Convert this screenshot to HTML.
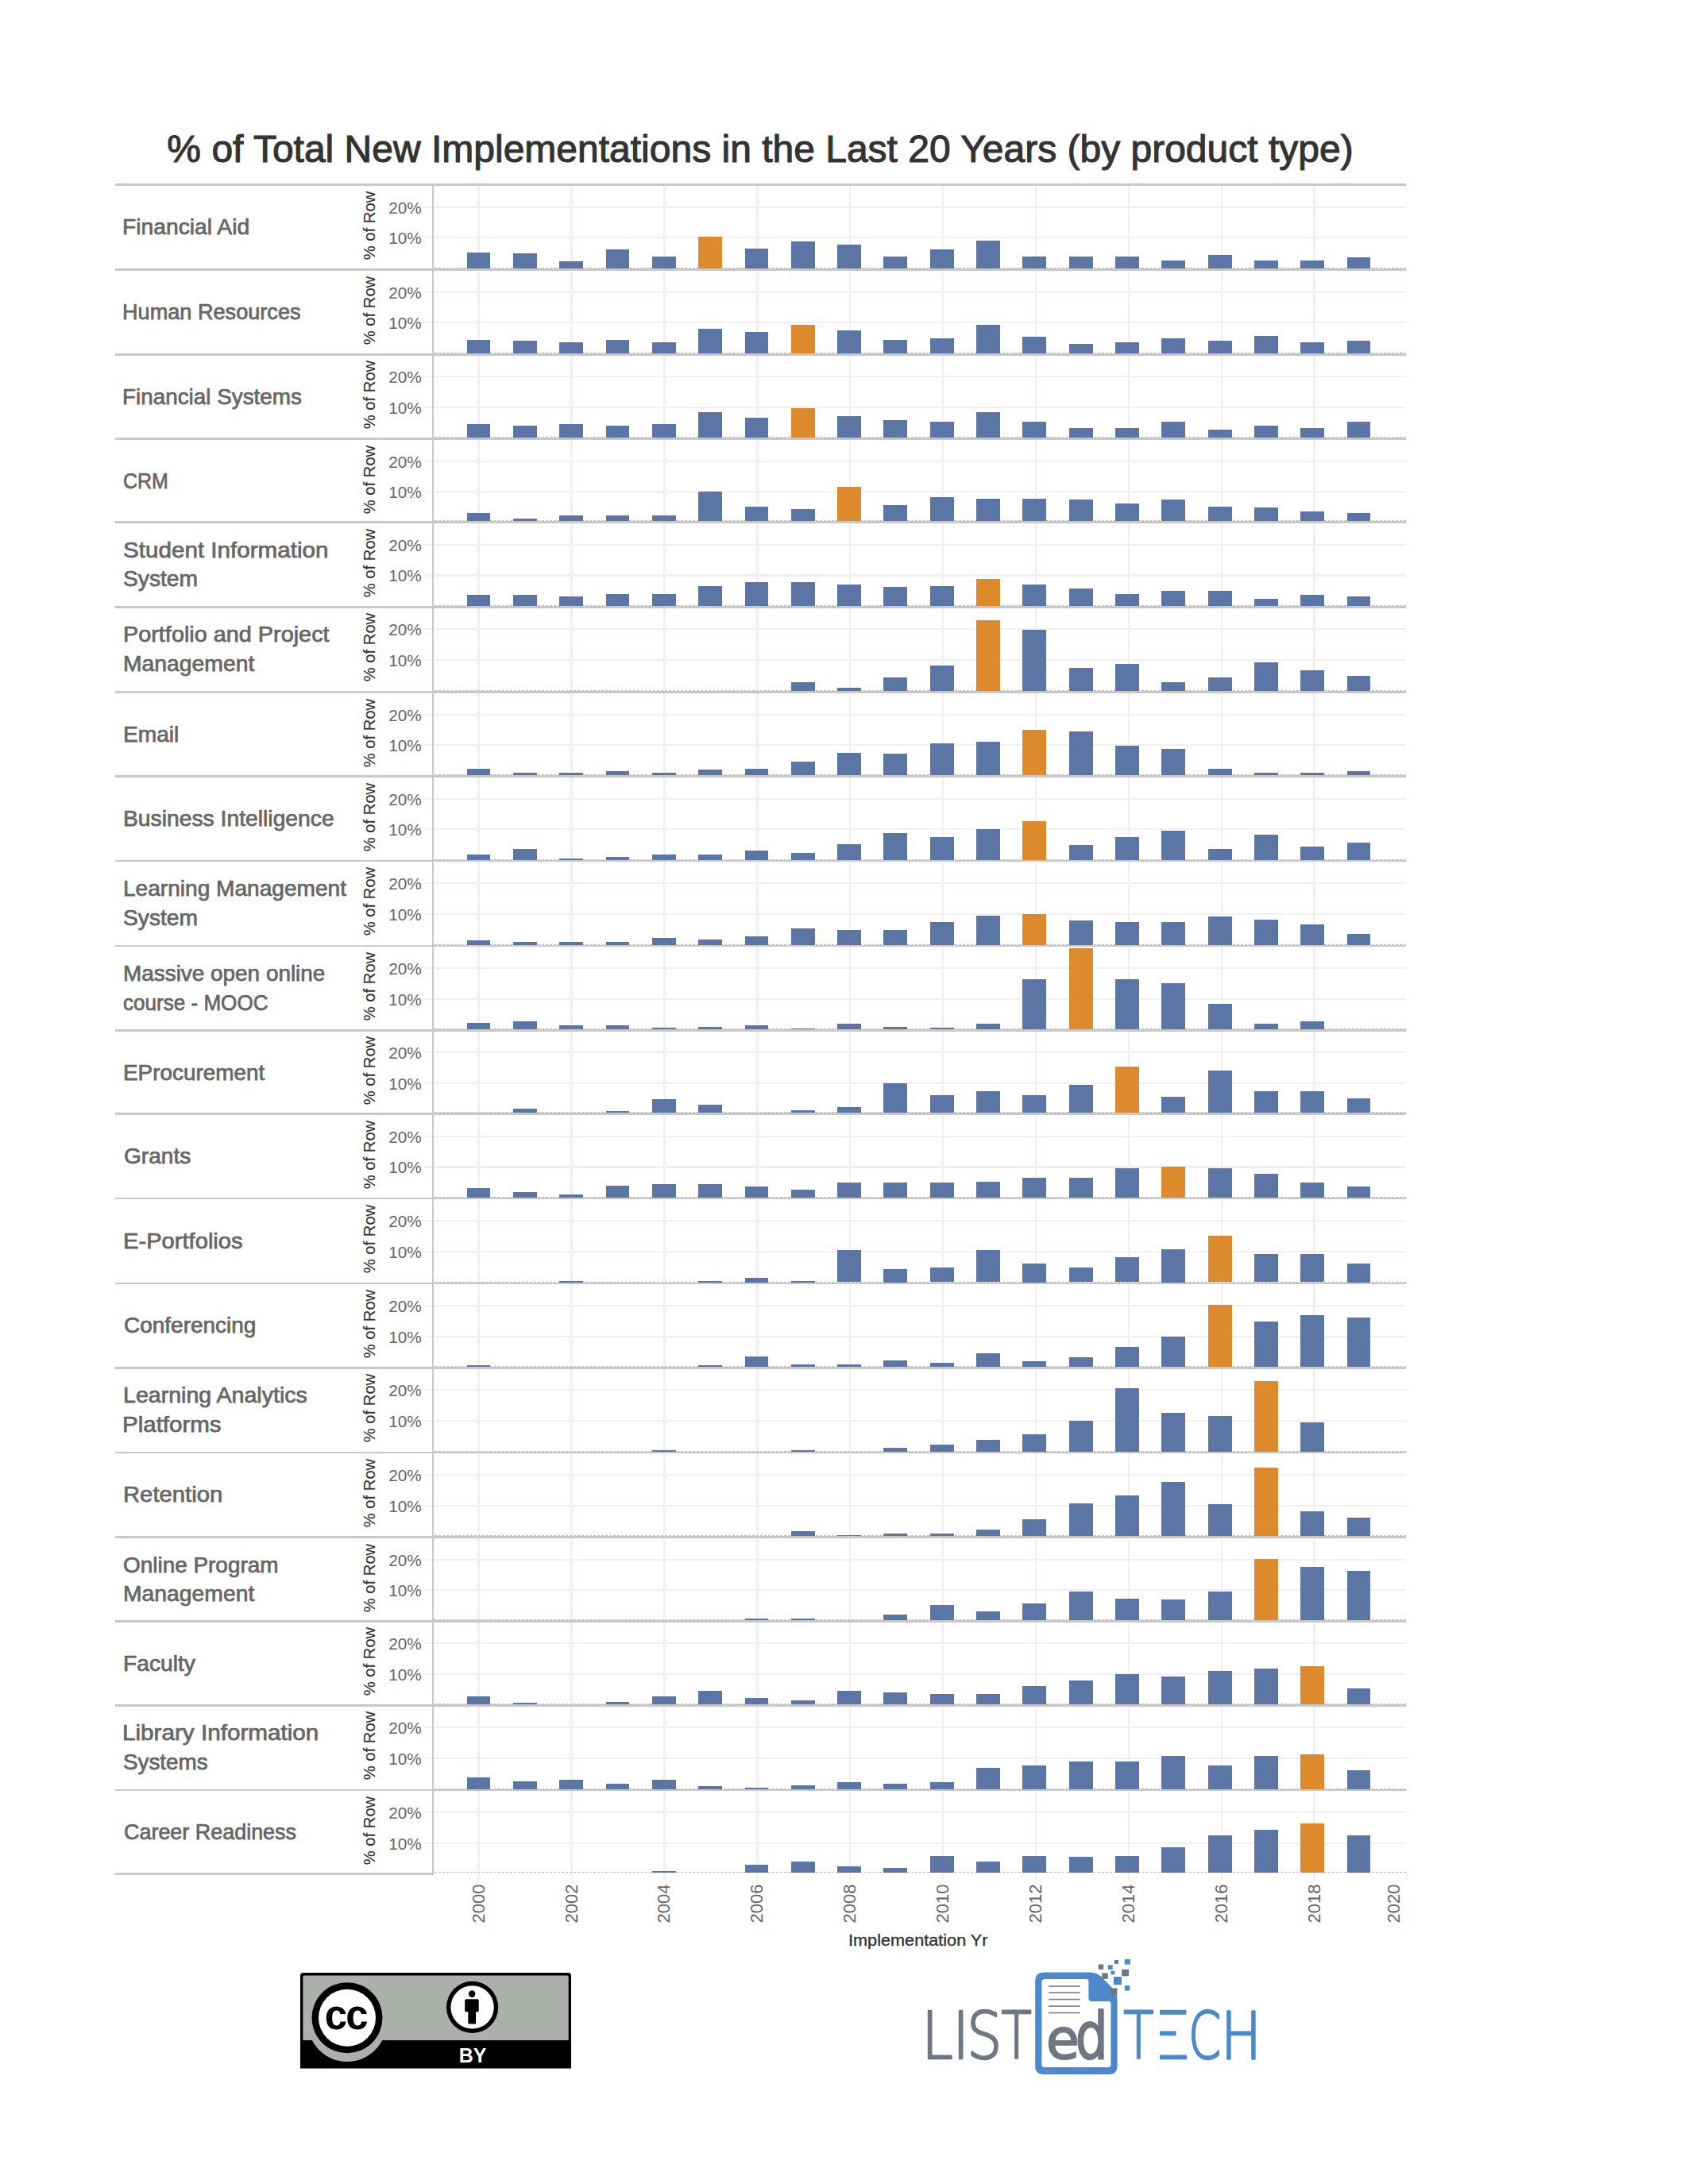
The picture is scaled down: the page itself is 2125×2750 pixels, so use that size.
<!DOCTYPE html>
<html><head><meta charset="utf-8"><title>% of Total New Implementations in the Last 20 Years (by product type)</title>
<style>
html,body{margin:0;padding:0;background:#fff;}
body{width:2125px;height:2750px;position:relative;overflow:hidden;font-family:"Liberation Sans",Arial,sans-serif;}
.a{position:absolute;}
.h{position:absolute;height:2.7px;background:#c8c8c8;}
.g{position:absolute;background:#f0f0f0;}
.b{position:absolute;width:29.8px;background:#5b76a5;}
.o{background:#dc8a2b;}
.d{position:absolute;height:1.1px;left:547px;width:1223px;background:repeating-linear-gradient(90deg,#c4c4c4 0 2.7px,transparent 2.7px 5px);}
.lbl{position:absolute;font-size:28px;line-height:36.7px;color:#666;white-space:nowrap;transform-origin:0 0;-webkit-text-stroke:0.75px #666;}
.tk{position:absolute;right:1594.2px;font-size:20.8px;line-height:24px;color:#666;text-align:right;white-space:nowrap;}
.rl{position:absolute;font-size:20.2px;line-height:22px;color:#333;-webkit-text-stroke:0.15px #333;white-space:nowrap;transform:rotate(-90deg);transform-origin:center center;width:100px;text-align:center;}
.yr{position:absolute;font-size:22px;line-height:22px;color:#666;white-space:nowrap;transform:rotate(-90deg);transform-origin:center center;width:60px;text-align:center;}
</style></head><body>

<div class="a" style="left:0;width:1914px;top:160.2px;text-align:center;font-size:48px;line-height:56px;color:#333;white-space:nowrap;-webkit-text-stroke:1.1px #333;">% of Total New Implementations in the Last 20 Years (by product type)</div>
<div class="g" style="left:601.3px;top:234px;width:2.6px;height:2133.5px"></div>
<div class="g" style="left:718.2px;top:234px;width:2.6px;height:2133.5px"></div>
<div class="g" style="left:835.1px;top:234px;width:2.6px;height:2133.5px"></div>
<div class="g" style="left:952px;top:234px;width:2.6px;height:2133.5px"></div>
<div class="g" style="left:1068.9px;top:234px;width:2.6px;height:2133.5px"></div>
<div class="g" style="left:1185.8px;top:234px;width:2.6px;height:2133.5px"></div>
<div class="g" style="left:1302.7px;top:234px;width:2.6px;height:2133.5px"></div>
<div class="g" style="left:1419.6px;top:234px;width:2.6px;height:2133.5px"></div>
<div class="g" style="left:1536.5px;top:234px;width:2.6px;height:2133.5px"></div>
<div class="g" style="left:1653.4px;top:234px;width:2.6px;height:2133.5px"></div>
<div class="g" style="left:1769.6px;top:2358.5px;width:2.2px;height:9px"></div>
<div class="g" style="left:535px;width:1235px;top:259.85px;height:2.1px"></div>
<div class="g" style="left:535px;width:1235px;top:298.35px;height:2.1px"></div>
<div class="d" style="top:337.1px"></div>
<div class="b" style="left:587.6px;top:317.9px;height:20.2px"></div>
<div class="b" style="left:645.92px;top:319px;height:19.1px"></div>
<div class="b" style="left:704.24px;top:328.9px;height:9.2px"></div>
<div class="b" style="left:762.56px;top:313.8px;height:24.3px"></div>
<div class="b" style="left:820.88px;top:323px;height:15.1px"></div>
<div class="b o" style="left:879.2px;top:298px;height:40.1px"></div>
<div class="b" style="left:937.52px;top:313.1px;height:25px"></div>
<div class="b" style="left:995.84px;top:303.9px;height:34.2px"></div>
<div class="b" style="left:1054.16px;top:308px;height:30.1px"></div>
<div class="b" style="left:1112.48px;top:323px;height:15.1px"></div>
<div class="b" style="left:1170.8px;top:313.8px;height:24.3px"></div>
<div class="b" style="left:1229.12px;top:302.8px;height:35.3px"></div>
<div class="b" style="left:1287.44px;top:323px;height:15.1px"></div>
<div class="b" style="left:1345.76px;top:323px;height:15.1px"></div>
<div class="b" style="left:1404.08px;top:323px;height:15.1px"></div>
<div class="b" style="left:1462.4px;top:327.8px;height:10.3px"></div>
<div class="b" style="left:1520.72px;top:320.8px;height:17.3px"></div>
<div class="b" style="left:1579.04px;top:327.8px;height:10.3px"></div>
<div class="b" style="left:1637.36px;top:327.8px;height:10.3px"></div>
<div class="b" style="left:1695.68px;top:324.1px;height:14px"></div>
<div class="h" style="left:145px;width:1625px;top:231.35px"></div>
<div class="lbl" style="left:154.18px;top:268.15px;transform:scaleX(1.0090)">Financial Aid</div>
<div class="rl" style="left:414.6px;top:272.85px">% of Row</div>
<div class="tk" style="top:249.8px">20%</div>
<div class="tk" style="top:288.3px">10%</div>
<div class="g" style="left:535px;width:1235px;top:366.65px;height:2.1px"></div>
<div class="g" style="left:535px;width:1235px;top:405.15px;height:2.1px"></div>
<div class="d" style="top:443.8px"></div>
<div class="b" style="left:587.6px;top:427.9px;height:16.9px"></div>
<div class="b" style="left:645.92px;top:429px;height:15.8px"></div>
<div class="b" style="left:704.24px;top:431.2px;height:13.6px"></div>
<div class="b" style="left:762.56px;top:427.9px;height:16.9px"></div>
<div class="b" style="left:820.88px;top:431.2px;height:13.6px"></div>
<div class="b" style="left:879.2px;top:413.9px;height:30.9px"></div>
<div class="b" style="left:937.52px;top:418px;height:26.8px"></div>
<div class="b o" style="left:995.84px;top:408.8px;height:36px"></div>
<div class="b" style="left:1054.16px;top:415.8px;height:29px"></div>
<div class="b" style="left:1112.48px;top:427.9px;height:16.9px"></div>
<div class="b" style="left:1170.8px;top:425.7px;height:19.1px"></div>
<div class="b" style="left:1229.12px;top:409.3px;height:35.5px"></div>
<div class="b" style="left:1287.44px;top:423.9px;height:20.9px"></div>
<div class="b" style="left:1345.76px;top:433px;height:11.8px"></div>
<div class="b" style="left:1404.08px;top:431.2px;height:13.6px"></div>
<div class="b" style="left:1462.4px;top:425.7px;height:19.1px"></div>
<div class="b" style="left:1520.72px;top:429px;height:15.8px"></div>
<div class="b" style="left:1579.04px;top:423.1px;height:21.7px"></div>
<div class="b" style="left:1637.36px;top:431.2px;height:13.6px"></div>
<div class="b" style="left:1695.68px;top:429px;height:15.8px"></div>
<div class="h" style="left:145px;width:1625px;top:338.15px"></div>
<div class="lbl" style="left:154.26px;top:374.95px;transform:scaleX(0.9683)">Human Resources</div>
<div class="rl" style="left:414.6px;top:379.65px">% of Row</div>
<div class="tk" style="top:356.6px">20%</div>
<div class="tk" style="top:395.1px">10%</div>
<div class="g" style="left:535px;width:1235px;top:473.35px;height:2.1px"></div>
<div class="g" style="left:535px;width:1235px;top:511.85px;height:2.1px"></div>
<div class="d" style="top:550.2px"></div>
<div class="b" style="left:587.6px;top:533.9px;height:17.3px"></div>
<div class="b" style="left:645.92px;top:536.1px;height:15.1px"></div>
<div class="b" style="left:704.24px;top:533.9px;height:17.3px"></div>
<div class="b" style="left:762.56px;top:536.1px;height:15.1px"></div>
<div class="b" style="left:820.88px;top:533.9px;height:17.3px"></div>
<div class="b" style="left:879.2px;top:518.9px;height:32.3px"></div>
<div class="b" style="left:937.52px;top:525.9px;height:25.3px"></div>
<div class="b o" style="left:995.84px;top:514.1px;height:37.1px"></div>
<div class="b" style="left:1054.16px;top:524px;height:27.2px"></div>
<div class="b" style="left:1112.48px;top:529.2px;height:22px"></div>
<div class="b" style="left:1170.8px;top:530.6px;height:20.6px"></div>
<div class="b" style="left:1229.12px;top:518.9px;height:32.3px"></div>
<div class="b" style="left:1287.44px;top:530.6px;height:20.6px"></div>
<div class="b" style="left:1345.76px;top:539.1px;height:12.1px"></div>
<div class="b" style="left:1404.08px;top:539.1px;height:12.1px"></div>
<div class="b" style="left:1462.4px;top:530.6px;height:20.6px"></div>
<div class="b" style="left:1520.72px;top:540.9px;height:10.3px"></div>
<div class="b" style="left:1579.04px;top:535.8px;height:15.4px"></div>
<div class="b" style="left:1637.36px;top:539.1px;height:12.1px"></div>
<div class="b" style="left:1695.68px;top:530.6px;height:20.6px"></div>
<div class="h" style="left:145px;width:1625px;top:444.85px"></div>
<div class="lbl" style="left:154.21px;top:481.65px;transform:scaleX(0.9942)">Financial Systems</div>
<div class="rl" style="left:414.6px;top:486.35px">% of Row</div>
<div class="tk" style="top:463.3px">20%</div>
<div class="tk" style="top:501.8px">10%</div>
<div class="g" style="left:535px;width:1235px;top:579.75px;height:2.1px"></div>
<div class="g" style="left:535px;width:1235px;top:618.25px;height:2.1px"></div>
<div class="d" style="top:655.4px"></div>
<div class="b" style="left:587.6px;top:646.1px;height:10.3px"></div>
<div class="b" style="left:645.92px;top:653.1px;height:3.3px"></div>
<div class="b" style="left:704.24px;top:649.1px;height:7.3px"></div>
<div class="b" style="left:762.56px;top:649.1px;height:7.3px"></div>
<div class="b" style="left:820.88px;top:649.1px;height:7.3px"></div>
<div class="b" style="left:879.2px;top:618.9px;height:37.5px"></div>
<div class="b" style="left:937.52px;top:637.7px;height:18.7px"></div>
<div class="b" style="left:995.84px;top:641px;height:15.4px"></div>
<div class="b o" style="left:1054.16px;top:613.1px;height:43.3px"></div>
<div class="b" style="left:1112.48px;top:635.8px;height:20.6px"></div>
<div class="b" style="left:1170.8px;top:625.9px;height:30.5px"></div>
<div class="b" style="left:1229.12px;top:627.7px;height:28.7px"></div>
<div class="b" style="left:1287.44px;top:627.7px;height:28.7px"></div>
<div class="b" style="left:1345.76px;top:628.9px;height:27.5px"></div>
<div class="b" style="left:1404.08px;top:634px;height:22.4px"></div>
<div class="b" style="left:1462.4px;top:628.9px;height:27.5px"></div>
<div class="b" style="left:1520.72px;top:637.7px;height:18.7px"></div>
<div class="b" style="left:1579.04px;top:638.8px;height:17.6px"></div>
<div class="b" style="left:1637.36px;top:643.9px;height:12.5px"></div>
<div class="b" style="left:1695.68px;top:646.1px;height:10.3px"></div>
<div class="h" style="left:145px;width:1625px;top:551.25px"></div>
<div class="lbl" style="left:155.31px;top:588.05px;transform:scaleX(0.8918)">CRM</div>
<div class="rl" style="left:414.6px;top:592.75px">% of Row</div>
<div class="tk" style="top:569.7px">20%</div>
<div class="tk" style="top:608.2px">10%</div>
<div class="g" style="left:535px;width:1235px;top:684.95px;height:2.1px"></div>
<div class="g" style="left:535px;width:1235px;top:723.45px;height:2.1px"></div>
<div class="d" style="top:761.8px"></div>
<div class="b" style="left:587.6px;top:749.2px;height:13.6px"></div>
<div class="b" style="left:645.92px;top:749.2px;height:13.6px"></div>
<div class="b" style="left:704.24px;top:751px;height:11.8px"></div>
<div class="b" style="left:762.56px;top:748.1px;height:14.7px"></div>
<div class="b" style="left:820.88px;top:748.1px;height:14.7px"></div>
<div class="b" style="left:879.2px;top:737.8px;height:25px"></div>
<div class="b" style="left:937.52px;top:732.7px;height:30.1px"></div>
<div class="b" style="left:995.84px;top:732.7px;height:30.1px"></div>
<div class="b" style="left:1054.16px;top:736px;height:26.8px"></div>
<div class="b" style="left:1112.48px;top:738.9px;height:23.9px"></div>
<div class="b" style="left:1170.8px;top:737.8px;height:25px"></div>
<div class="b o" style="left:1229.12px;top:729px;height:33.8px"></div>
<div class="b" style="left:1287.44px;top:736px;height:26.8px"></div>
<div class="b" style="left:1345.76px;top:741.1px;height:21.7px"></div>
<div class="b" style="left:1404.08px;top:748.1px;height:14.7px"></div>
<div class="b" style="left:1462.4px;top:744.1px;height:18.7px"></div>
<div class="b" style="left:1520.72px;top:744.1px;height:18.7px"></div>
<div class="b" style="left:1579.04px;top:754px;height:8.8px"></div>
<div class="b" style="left:1637.36px;top:749.2px;height:13.6px"></div>
<div class="b" style="left:1695.68px;top:751px;height:11.8px"></div>
<div class="h" style="left:145px;width:1625px;top:656.45px"></div>
<div class="lbl" style="left:154.54px;top:674.95px;transform:scaleX(1.0579)">Student Information</div>
<div class="lbl" style="left:154.59px;top:711.45px;transform:scaleX(1.0077)">System</div>
<div class="rl" style="left:414.6px;top:697.95px">% of Row</div>
<div class="tk" style="top:674.9px">20%</div>
<div class="tk" style="top:713.4px">10%</div>
<div class="g" style="left:535px;width:1235px;top:791.35px;height:2.1px"></div>
<div class="g" style="left:535px;width:1235px;top:829.85px;height:2.1px"></div>
<div class="d" style="top:869px"></div>
<div class="b" style="left:995.84px;top:859px;height:11px"></div>
<div class="b" style="left:1054.16px;top:866.3px;height:3.7px"></div>
<div class="b" style="left:1112.48px;top:853.1px;height:16.9px"></div>
<div class="b" style="left:1170.8px;top:838px;height:32px"></div>
<div class="b o" style="left:1229.12px;top:780.7px;height:89.3px"></div>
<div class="b" style="left:1287.44px;top:792.9px;height:77.1px"></div>
<div class="b" style="left:1345.76px;top:841px;height:29px"></div>
<div class="b" style="left:1404.08px;top:835.8px;height:34.2px"></div>
<div class="b" style="left:1462.4px;top:859px;height:11px"></div>
<div class="b" style="left:1520.72px;top:853.1px;height:16.9px"></div>
<div class="b" style="left:1579.04px;top:834px;height:36px"></div>
<div class="b" style="left:1637.36px;top:843.9px;height:26.1px"></div>
<div class="b" style="left:1695.68px;top:850.9px;height:19.1px"></div>
<div class="h" style="left:145px;width:1625px;top:762.85px"></div>
<div class="lbl" style="left:154.54px;top:781.35px;transform:scaleX(1.0295)">Portfolio and Project</div>
<div class="lbl" style="left:154.58px;top:817.85px;transform:scaleX(1.0111)">Management</div>
<div class="rl" style="left:414.6px;top:804.35px">% of Row</div>
<div class="tk" style="top:781.3px">20%</div>
<div class="tk" style="top:819.8px">10%</div>
<div class="g" style="left:535px;width:1235px;top:898.55px;height:2.1px"></div>
<div class="g" style="left:535px;width:1235px;top:937.05px;height:2.1px"></div>
<div class="d" style="top:975.25px"></div>
<div class="b" style="left:587.6px;top:968.15px;height:8.1px"></div>
<div class="b" style="left:645.92px;top:973.35px;height:2.9px"></div>
<div class="b" style="left:704.24px;top:973.35px;height:2.9px"></div>
<div class="b" style="left:762.56px;top:971.15px;height:5.1px"></div>
<div class="b" style="left:820.88px;top:973.35px;height:2.9px"></div>
<div class="b" style="left:879.2px;top:968.95px;height:7.3px"></div>
<div class="b" style="left:937.52px;top:968.15px;height:8.1px"></div>
<div class="b" style="left:995.84px;top:958.95px;height:17.3px"></div>
<div class="b" style="left:1054.16px;top:947.95px;height:28.3px"></div>
<div class="b" style="left:1112.48px;top:949.05px;height:27.2px"></div>
<div class="b" style="left:1170.8px;top:936.25px;height:40px"></div>
<div class="b" style="left:1229.12px;top:934.05px;height:42.2px"></div>
<div class="b o" style="left:1287.44px;top:918.95px;height:57.3px"></div>
<div class="b" style="left:1345.76px;top:921.15px;height:55.1px"></div>
<div class="b" style="left:1404.08px;top:938.75px;height:37.5px"></div>
<div class="b" style="left:1462.4px;top:942.85px;height:33.4px"></div>
<div class="b" style="left:1520.72px;top:968.15px;height:8.1px"></div>
<div class="b" style="left:1579.04px;top:973.35px;height:2.9px"></div>
<div class="b" style="left:1637.36px;top:973.35px;height:2.9px"></div>
<div class="b" style="left:1695.68px;top:971.15px;height:5.1px"></div>
<div class="h" style="left:145px;width:1625px;top:870.05px"></div>
<div class="lbl" style="left:154.59px;top:906.85px;transform:scaleX(1.0045)">Email</div>
<div class="rl" style="left:414.6px;top:911.55px">% of Row</div>
<div class="tk" style="top:888.5px">20%</div>
<div class="tk" style="top:927px">10%</div>
<div class="g" style="left:535px;width:1235px;top:1004.8px;height:2.1px"></div>
<div class="g" style="left:535px;width:1235px;top:1043.3px;height:2.1px"></div>
<div class="d" style="top:1081.6px"></div>
<div class="b" style="left:587.6px;top:1076px;height:6.6px"></div>
<div class="b" style="left:645.92px;top:1069px;height:13.6px"></div>
<div class="b" style="left:704.24px;top:1081.1px;height:1.5px"></div>
<div class="b" style="left:762.56px;top:1078.9px;height:3.7px"></div>
<div class="b" style="left:820.88px;top:1076px;height:6.6px"></div>
<div class="b" style="left:879.2px;top:1076px;height:6.6px"></div>
<div class="b" style="left:937.52px;top:1070.8px;height:11.8px"></div>
<div class="b" style="left:995.84px;top:1073.8px;height:8.8px"></div>
<div class="b" style="left:1054.16px;top:1063.1px;height:19.5px"></div>
<div class="b" style="left:1112.48px;top:1048.8px;height:33.8px"></div>
<div class="b" style="left:1170.8px;top:1053.9px;height:28.7px"></div>
<div class="b" style="left:1229.12px;top:1044px;height:38.6px"></div>
<div class="b o" style="left:1287.44px;top:1033.7px;height:48.9px"></div>
<div class="b" style="left:1345.76px;top:1063.9px;height:18.7px"></div>
<div class="b" style="left:1404.08px;top:1053.9px;height:28.7px"></div>
<div class="b" style="left:1462.4px;top:1045.9px;height:36.7px"></div>
<div class="b" style="left:1520.72px;top:1069px;height:13.6px"></div>
<div class="b" style="left:1579.04px;top:1051px;height:31.6px"></div>
<div class="b" style="left:1637.36px;top:1066.1px;height:16.5px"></div>
<div class="b" style="left:1695.68px;top:1060.9px;height:21.7px"></div>
<div class="h" style="left:145px;width:1625px;top:976.3px"></div>
<div class="lbl" style="left:154.58px;top:1013.1px;transform:scaleX(1.0100)">Business Intelligence</div>
<div class="rl" style="left:414.6px;top:1017.8px">% of Row</div>
<div class="tk" style="top:994.75px">20%</div>
<div class="tk" style="top:1033.25px">10%</div>
<div class="g" style="left:535px;width:1235px;top:1111.15px;height:2.1px"></div>
<div class="g" style="left:535px;width:1235px;top:1149.65px;height:2.1px"></div>
<div class="d" style="top:1188.7px"></div>
<div class="b" style="left:587.6px;top:1184.2px;height:5.5px"></div>
<div class="b" style="left:645.92px;top:1186px;height:3.7px"></div>
<div class="b" style="left:704.24px;top:1186px;height:3.7px"></div>
<div class="b" style="left:762.56px;top:1186px;height:3.7px"></div>
<div class="b" style="left:820.88px;top:1180.9px;height:8.8px"></div>
<div class="b" style="left:879.2px;top:1183.1px;height:6.6px"></div>
<div class="b" style="left:937.52px;top:1179px;height:10.7px"></div>
<div class="b" style="left:995.84px;top:1169.1px;height:20.6px"></div>
<div class="b" style="left:1054.16px;top:1171px;height:18.7px"></div>
<div class="b" style="left:1112.48px;top:1171px;height:18.7px"></div>
<div class="b" style="left:1170.8px;top:1161px;height:28.7px"></div>
<div class="b" style="left:1229.12px;top:1153px;height:36.7px"></div>
<div class="b o" style="left:1287.44px;top:1150.8px;height:38.9px"></div>
<div class="b" style="left:1345.76px;top:1158.8px;height:30.9px"></div>
<div class="b" style="left:1404.08px;top:1161px;height:28.7px"></div>
<div class="b" style="left:1462.4px;top:1161px;height:28.7px"></div>
<div class="b" style="left:1520.72px;top:1154.1px;height:35.6px"></div>
<div class="b" style="left:1579.04px;top:1158.1px;height:31.6px"></div>
<div class="b" style="left:1637.36px;top:1164px;height:25.7px"></div>
<div class="b" style="left:1695.68px;top:1176.1px;height:13.6px"></div>
<div class="h" style="left:145px;width:1625px;top:1082.65px"></div>
<div class="lbl" style="left:154.59px;top:1101.15px;transform:scaleX(1.0029)">Learning Management</div>
<div class="lbl" style="left:154.59px;top:1137.65px;transform:scaleX(1.0077)">System</div>
<div class="rl" style="left:414.6px;top:1124.15px">% of Row</div>
<div class="tk" style="top:1101.1px">20%</div>
<div class="tk" style="top:1139.6px">10%</div>
<div class="g" style="left:535px;width:1235px;top:1218.25px;height:2.1px"></div>
<div class="g" style="left:535px;width:1235px;top:1256.75px;height:2.1px"></div>
<div class="d" style="top:1294.8px"></div>
<div class="b" style="left:587.6px;top:1288.1px;height:7.7px"></div>
<div class="b" style="left:645.92px;top:1285.9px;height:9.9px"></div>
<div class="b" style="left:704.24px;top:1291px;height:4.8px"></div>
<div class="b" style="left:762.56px;top:1291px;height:4.8px"></div>
<div class="b" style="left:820.88px;top:1294px;height:1.8px"></div>
<div class="b" style="left:879.2px;top:1292.9px;height:2.9px"></div>
<div class="b" style="left:937.52px;top:1291px;height:4.8px"></div>
<div class="b" style="left:995.84px;top:1295.4px;height:0.4px"></div>
<div class="b" style="left:1054.16px;top:1289.2px;height:6.6px"></div>
<div class="b" style="left:1112.48px;top:1292.9px;height:2.9px"></div>
<div class="b" style="left:1170.8px;top:1294px;height:1.8px"></div>
<div class="b" style="left:1229.12px;top:1289.2px;height:6.6px"></div>
<div class="b" style="left:1287.44px;top:1233px;height:62.8px"></div>
<div class="b o" style="left:1345.76px;top:1194.1px;height:101.7px"></div>
<div class="b" style="left:1404.08px;top:1233px;height:62.8px"></div>
<div class="b" style="left:1462.4px;top:1238.1px;height:57.7px"></div>
<div class="b" style="left:1520.72px;top:1263.8px;height:32px"></div>
<div class="b" style="left:1579.04px;top:1289.2px;height:6.6px"></div>
<div class="b" style="left:1637.36px;top:1285.9px;height:9.9px"></div>
<div class="h" style="left:145px;width:1625px;top:1189.75px"></div>
<div class="lbl" style="left:154.61px;top:1208.25px;transform:scaleX(0.9964)">Massive open online</div>
<div class="lbl" style="left:155.07px;top:1244.75px;transform:scaleX(0.9309)">course - MOOC</div>
<div class="rl" style="left:414.6px;top:1231.25px">% of Row</div>
<div class="tk" style="top:1208.2px">20%</div>
<div class="tk" style="top:1246.7px">10%</div>
<div class="g" style="left:535px;width:1235px;top:1324.35px;height:2.1px"></div>
<div class="g" style="left:535px;width:1235px;top:1362.85px;height:2.1px"></div>
<div class="d" style="top:1400.4px"></div>
<div class="b" style="left:645.92px;top:1396.3px;height:5.1px"></div>
<div class="b" style="left:704.24px;top:1401px;height:0.4px"></div>
<div class="b" style="left:762.56px;top:1399.2px;height:2.2px"></div>
<div class="b" style="left:820.88px;top:1384.1px;height:17.3px"></div>
<div class="b" style="left:879.2px;top:1391.1px;height:10.3px"></div>
<div class="b" style="left:995.84px;top:1398.1px;height:3.3px"></div>
<div class="b" style="left:1054.16px;top:1394.1px;height:7.3px"></div>
<div class="b" style="left:1112.48px;top:1363.9px;height:37.5px"></div>
<div class="b" style="left:1170.8px;top:1379px;height:22.4px"></div>
<div class="b" style="left:1229.12px;top:1373.9px;height:27.5px"></div>
<div class="b" style="left:1287.44px;top:1379px;height:22.4px"></div>
<div class="b" style="left:1345.76px;top:1366.1px;height:35.3px"></div>
<div class="b o" style="left:1404.08px;top:1343px;height:58.4px"></div>
<div class="b" style="left:1462.4px;top:1381.2px;height:20.2px"></div>
<div class="b" style="left:1520.72px;top:1348.1px;height:53.3px"></div>
<div class="b" style="left:1579.04px;top:1373.9px;height:27.5px"></div>
<div class="b" style="left:1637.36px;top:1373.9px;height:27.5px"></div>
<div class="b" style="left:1695.68px;top:1383px;height:18.4px"></div>
<div class="h" style="left:145px;width:1625px;top:1295.85px"></div>
<div class="lbl" style="left:154.61px;top:1332.65px;transform:scaleX(0.9966)">EProcurement</div>
<div class="rl" style="left:414.6px;top:1337.35px">% of Row</div>
<div class="tk" style="top:1314.3px">20%</div>
<div class="tk" style="top:1352.8px">10%</div>
<div class="g" style="left:535px;width:1235px;top:1429.95px;height:2.1px"></div>
<div class="g" style="left:535px;width:1235px;top:1468.45px;height:2.1px"></div>
<div class="d" style="top:1506.7px"></div>
<div class="b" style="left:587.6px;top:1495.9px;height:11.8px"></div>
<div class="b" style="left:645.92px;top:1501.1px;height:6.6px"></div>
<div class="b" style="left:704.24px;top:1504px;height:3.7px"></div>
<div class="b" style="left:762.56px;top:1493px;height:14.7px"></div>
<div class="b" style="left:820.88px;top:1490.8px;height:16.9px"></div>
<div class="b" style="left:879.2px;top:1490.8px;height:16.9px"></div>
<div class="b" style="left:937.52px;top:1494.1px;height:13.6px"></div>
<div class="b" style="left:995.84px;top:1497.8px;height:9.9px"></div>
<div class="b" style="left:1054.16px;top:1489px;height:18.7px"></div>
<div class="b" style="left:1112.48px;top:1489px;height:18.7px"></div>
<div class="b" style="left:1170.8px;top:1489px;height:18.7px"></div>
<div class="b" style="left:1229.12px;top:1487.9px;height:19.8px"></div>
<div class="b" style="left:1287.44px;top:1483.1px;height:24.6px"></div>
<div class="b" style="left:1345.76px;top:1483.1px;height:24.6px"></div>
<div class="b" style="left:1404.08px;top:1471px;height:36.7px"></div>
<div class="b o" style="left:1462.4px;top:1468.8px;height:38.9px"></div>
<div class="b" style="left:1520.72px;top:1471px;height:36.7px"></div>
<div class="b" style="left:1579.04px;top:1477.9px;height:29.8px"></div>
<div class="b" style="left:1637.36px;top:1489px;height:18.7px"></div>
<div class="b" style="left:1695.68px;top:1494.1px;height:13.6px"></div>
<div class="h" style="left:145px;width:1625px;top:1401.45px"></div>
<div class="lbl" style="left:155.6px;top:1438.25px;transform:scaleX(1.0024)">Grants</div>
<div class="rl" style="left:414.6px;top:1442.95px">% of Row</div>
<div class="tk" style="top:1419.9px">20%</div>
<div class="tk" style="top:1458.4px">10%</div>
<div class="g" style="left:535px;width:1235px;top:1536.25px;height:2.1px"></div>
<div class="g" style="left:535px;width:1235px;top:1574.75px;height:2.1px"></div>
<div class="d" style="top:1613.5px"></div>
<div class="b" style="left:704.24px;top:1613px;height:1.5px"></div>
<div class="b" style="left:879.2px;top:1613px;height:1.5px"></div>
<div class="b" style="left:937.52px;top:1609px;height:5.5px"></div>
<div class="b" style="left:995.84px;top:1613px;height:1.5px"></div>
<div class="b" style="left:1054.16px;top:1573.7px;height:40.8px"></div>
<div class="b" style="left:1112.48px;top:1598px;height:16.5px"></div>
<div class="b" style="left:1170.8px;top:1596.1px;height:18.4px"></div>
<div class="b" style="left:1229.12px;top:1574.1px;height:40.4px"></div>
<div class="b" style="left:1287.44px;top:1591px;height:23.5px"></div>
<div class="b" style="left:1345.76px;top:1596.1px;height:18.4px"></div>
<div class="b" style="left:1404.08px;top:1582.9px;height:31.6px"></div>
<div class="b" style="left:1462.4px;top:1573px;height:41.5px"></div>
<div class="b o" style="left:1520.72px;top:1556.1px;height:58.4px"></div>
<div class="b" style="left:1579.04px;top:1578.9px;height:35.6px"></div>
<div class="b" style="left:1637.36px;top:1578.9px;height:35.6px"></div>
<div class="b" style="left:1695.68px;top:1591px;height:23.5px"></div>
<div class="h" style="left:145px;width:1625px;top:1507.75px"></div>
<div class="lbl" style="left:154.52px;top:1544.55px;transform:scaleX(1.0408)">E-Portfolios</div>
<div class="rl" style="left:414.6px;top:1549.25px">% of Row</div>
<div class="tk" style="top:1526.2px">20%</div>
<div class="tk" style="top:1564.7px">10%</div>
<div class="g" style="left:535px;width:1235px;top:1643.05px;height:2.1px"></div>
<div class="g" style="left:535px;width:1235px;top:1681.55px;height:2.1px"></div>
<div class="d" style="top:1719.8px"></div>
<div class="b" style="left:587.6px;top:1719px;height:1.8px"></div>
<div class="b" style="left:879.2px;top:1719px;height:1.8px"></div>
<div class="b" style="left:937.52px;top:1707.9px;height:12.9px"></div>
<div class="b" style="left:995.84px;top:1717.9px;height:2.9px"></div>
<div class="b" style="left:1054.16px;top:1717.9px;height:2.9px"></div>
<div class="b" style="left:1112.48px;top:1713.1px;height:7.7px"></div>
<div class="b" style="left:1170.8px;top:1716px;height:4.8px"></div>
<div class="b" style="left:1229.12px;top:1703.9px;height:16.9px"></div>
<div class="b" style="left:1287.44px;top:1714.2px;height:6.6px"></div>
<div class="b" style="left:1345.76px;top:1709px;height:11.8px"></div>
<div class="b" style="left:1404.08px;top:1695.8px;height:25px"></div>
<div class="b" style="left:1462.4px;top:1683px;height:37.8px"></div>
<div class="b o" style="left:1520.72px;top:1642.9px;height:77.9px"></div>
<div class="b" style="left:1579.04px;top:1663.9px;height:56.9px"></div>
<div class="b" style="left:1637.36px;top:1655.8px;height:65px"></div>
<div class="b" style="left:1695.68px;top:1658.7px;height:62.1px"></div>
<div class="h" style="left:145px;width:1625px;top:1614.55px"></div>
<div class="lbl" style="left:155.6px;top:1651.35px;transform:scaleX(0.9988)">Conferencing</div>
<div class="rl" style="left:414.6px;top:1656.05px">% of Row</div>
<div class="tk" style="top:1633px">20%</div>
<div class="tk" style="top:1671.5px">10%</div>
<div class="g" style="left:535px;width:1235px;top:1749.35px;height:2.1px"></div>
<div class="g" style="left:535px;width:1235px;top:1787.85px;height:2.1px"></div>
<div class="d" style="top:1826.6px"></div>
<div class="b" style="left:820.88px;top:1826.1px;height:1.5px"></div>
<div class="b" style="left:995.84px;top:1826.1px;height:1.5px"></div>
<div class="b" style="left:1112.48px;top:1823.2px;height:4.4px"></div>
<div class="b" style="left:1170.8px;top:1819.2px;height:8.4px"></div>
<div class="b" style="left:1229.12px;top:1812.9px;height:14.7px"></div>
<div class="b" style="left:1287.44px;top:1805.9px;height:21.7px"></div>
<div class="b" style="left:1345.76px;top:1789px;height:38.6px"></div>
<div class="b" style="left:1404.08px;top:1747.9px;height:79.7px"></div>
<div class="b" style="left:1462.4px;top:1779.1px;height:48.5px"></div>
<div class="b" style="left:1520.72px;top:1783.2px;height:44.4px"></div>
<div class="b o" style="left:1579.04px;top:1739.1px;height:88.5px"></div>
<div class="b" style="left:1637.36px;top:1790.9px;height:36.7px"></div>
<div class="h" style="left:145px;width:1625px;top:1720.85px"></div>
<div class="lbl" style="left:154.56px;top:1739.35px;transform:scaleX(1.0200)">Learning Analytics</div>
<div class="lbl" style="left:154.49px;top:1775.85px;transform:scaleX(1.0534)">Platforms</div>
<div class="rl" style="left:414.6px;top:1762.35px">% of Row</div>
<div class="tk" style="top:1739.3px">20%</div>
<div class="tk" style="top:1777.8px">10%</div>
<div class="g" style="left:535px;width:1235px;top:1856.15px;height:2.1px"></div>
<div class="g" style="left:535px;width:1235px;top:1894.65px;height:2.1px"></div>
<div class="d" style="top:1933.3px"></div>
<div class="b" style="left:995.84px;top:1928.1px;height:6.2px"></div>
<div class="b" style="left:1054.16px;top:1932.8px;height:1.5px"></div>
<div class="b" style="left:1112.48px;top:1931px;height:3.3px"></div>
<div class="b" style="left:1170.8px;top:1931px;height:3.3px"></div>
<div class="b" style="left:1229.12px;top:1925.9px;height:8.4px"></div>
<div class="b" style="left:1287.44px;top:1913px;height:21.3px"></div>
<div class="b" style="left:1345.76px;top:1892.8px;height:41.5px"></div>
<div class="b" style="left:1404.08px;top:1882.9px;height:51.4px"></div>
<div class="b" style="left:1462.4px;top:1866px;height:68.3px"></div>
<div class="b" style="left:1520.72px;top:1893.9px;height:40.4px"></div>
<div class="b o" style="left:1579.04px;top:1848px;height:86.3px"></div>
<div class="b" style="left:1637.36px;top:1903.1px;height:31.2px"></div>
<div class="b" style="left:1695.68px;top:1911.2px;height:23.1px"></div>
<div class="h" style="left:145px;width:1625px;top:1827.65px"></div>
<div class="lbl" style="left:154.51px;top:1864.45px;transform:scaleX(1.0444)">Retention</div>
<div class="rl" style="left:414.6px;top:1869.15px">% of Row</div>
<div class="tk" style="top:1846.1px">20%</div>
<div class="tk" style="top:1884.6px">10%</div>
<div class="g" style="left:535px;width:1235px;top:1962.85px;height:2.1px"></div>
<div class="g" style="left:535px;width:1235px;top:2001.35px;height:2.1px"></div>
<div class="d" style="top:2038.8px"></div>
<div class="b" style="left:937.52px;top:2038px;height:1.8px"></div>
<div class="b" style="left:995.84px;top:2038px;height:1.8px"></div>
<div class="b" style="left:1112.48px;top:2033.2px;height:6.6px"></div>
<div class="b" style="left:1170.8px;top:2021.1px;height:18.7px"></div>
<div class="b" style="left:1229.12px;top:2028.8px;height:11px"></div>
<div class="b" style="left:1287.44px;top:2018.9px;height:20.9px"></div>
<div class="b" style="left:1345.76px;top:2003.8px;height:36px"></div>
<div class="b" style="left:1404.08px;top:2013px;height:26.8px"></div>
<div class="b" style="left:1462.4px;top:2014.1px;height:25.7px"></div>
<div class="b" style="left:1520.72px;top:2003.8px;height:36px"></div>
<div class="b o" style="left:1579.04px;top:1963px;height:76.8px"></div>
<div class="b" style="left:1637.36px;top:1973px;height:66.8px"></div>
<div class="b" style="left:1695.68px;top:1977.7px;height:62.1px"></div>
<div class="h" style="left:145px;width:1625px;top:1934.35px"></div>
<div class="lbl" style="left:155.2px;top:1952.85px;transform:scaleX(0.9969)">Online Program</div>
<div class="lbl" style="left:154.58px;top:1989.35px;transform:scaleX(1.0111)">Management</div>
<div class="rl" style="left:414.6px;top:1975.85px">% of Row</div>
<div class="tk" style="top:1952.8px">20%</div>
<div class="tk" style="top:1991.3px">10%</div>
<div class="g" style="left:535px;width:1235px;top:2068.35px;height:2.1px"></div>
<div class="g" style="left:535px;width:1235px;top:2106.85px;height:2.1px"></div>
<div class="d" style="top:2144.8px"></div>
<div class="b" style="left:587.6px;top:2135.9px;height:9.9px"></div>
<div class="b" style="left:645.92px;top:2144px;height:1.8px"></div>
<div class="b" style="left:762.56px;top:2142.9px;height:2.9px"></div>
<div class="b" style="left:820.88px;top:2135.9px;height:9.9px"></div>
<div class="b" style="left:879.2px;top:2128.9px;height:16.9px"></div>
<div class="b" style="left:937.52px;top:2138.1px;height:7.7px"></div>
<div class="b" style="left:995.84px;top:2141px;height:4.8px"></div>
<div class="b" style="left:1054.16px;top:2128.9px;height:16.9px"></div>
<div class="b" style="left:1112.48px;top:2131.1px;height:14.7px"></div>
<div class="b" style="left:1170.8px;top:2132.9px;height:12.9px"></div>
<div class="b" style="left:1229.12px;top:2132.9px;height:12.9px"></div>
<div class="b" style="left:1287.44px;top:2123px;height:22.8px"></div>
<div class="b" style="left:1345.76px;top:2116px;height:29.8px"></div>
<div class="b" style="left:1404.08px;top:2108px;height:37.8px"></div>
<div class="b" style="left:1462.4px;top:2110.9px;height:34.9px"></div>
<div class="b" style="left:1520.72px;top:2103.9px;height:41.9px"></div>
<div class="b" style="left:1579.04px;top:2101px;height:44.8px"></div>
<div class="b o" style="left:1637.36px;top:2098.1px;height:47.7px"></div>
<div class="b" style="left:1695.68px;top:2126px;height:19.8px"></div>
<div class="h" style="left:145px;width:1625px;top:2039.85px"></div>
<div class="lbl" style="left:154.58px;top:2076.65px;transform:scaleX(1.0079)">Faculty</div>
<div class="rl" style="left:414.6px;top:2081.35px">% of Row</div>
<div class="tk" style="top:2058.3px">20%</div>
<div class="tk" style="top:2096.8px">10%</div>
<div class="g" style="left:535px;width:1235px;top:2174.35px;height:2.1px"></div>
<div class="g" style="left:535px;width:1235px;top:2212.85px;height:2.1px"></div>
<div class="d" style="top:2251.6px"></div>
<div class="b" style="left:587.6px;top:2237.9px;height:14.7px"></div>
<div class="b" style="left:645.92px;top:2243.1px;height:9.5px"></div>
<div class="b" style="left:704.24px;top:2240.8px;height:11.8px"></div>
<div class="b" style="left:762.56px;top:2246px;height:6.6px"></div>
<div class="b" style="left:820.88px;top:2240.8px;height:11.8px"></div>
<div class="b" style="left:879.2px;top:2248.9px;height:3.7px"></div>
<div class="b" style="left:937.52px;top:2250.8px;height:1.8px"></div>
<div class="b" style="left:995.84px;top:2247.8px;height:4.8px"></div>
<div class="b" style="left:1054.16px;top:2244.2px;height:8.4px"></div>
<div class="b" style="left:1112.48px;top:2246px;height:6.6px"></div>
<div class="b" style="left:1170.8px;top:2244.2px;height:8.4px"></div>
<div class="b" style="left:1229.12px;top:2226.2px;height:26.4px"></div>
<div class="b" style="left:1287.44px;top:2222.8px;height:29.8px"></div>
<div class="b" style="left:1345.76px;top:2218.1px;height:34.5px"></div>
<div class="b" style="left:1404.08px;top:2218.1px;height:34.5px"></div>
<div class="b" style="left:1462.4px;top:2211.1px;height:41.5px"></div>
<div class="b" style="left:1520.72px;top:2222.8px;height:29.8px"></div>
<div class="b" style="left:1579.04px;top:2211.1px;height:41.5px"></div>
<div class="b o" style="left:1637.36px;top:2208.9px;height:43.7px"></div>
<div class="b" style="left:1695.68px;top:2229.1px;height:23.5px"></div>
<div class="h" style="left:145px;width:1625px;top:2145.85px"></div>
<div class="lbl" style="left:154.48px;top:2164.35px;transform:scaleX(1.0596)">Library Information</div>
<div class="lbl" style="left:154.61px;top:2200.85px;transform:scaleX(0.9934)">Systems</div>
<div class="rl" style="left:414.6px;top:2187.35px">% of Row</div>
<div class="tk" style="top:2164.3px">20%</div>
<div class="tk" style="top:2202.8px">10%</div>
<div class="g" style="left:535px;width:1235px;top:2281.15px;height:2.1px"></div>
<div class="g" style="left:535px;width:1235px;top:2319.65px;height:2.1px"></div>
<div class="d" style="top:2356.9px"></div>
<div class="b" style="left:820.88px;top:2356.4px;height:1.5px"></div>
<div class="b" style="left:937.52px;top:2348.4px;height:9.5px"></div>
<div class="b" style="left:995.84px;top:2343.6px;height:14.3px"></div>
<div class="b" style="left:1054.16px;top:2349.5px;height:8.4px"></div>
<div class="b" style="left:1112.48px;top:2351.7px;height:6.2px"></div>
<div class="b" style="left:1170.8px;top:2336.6px;height:21.3px"></div>
<div class="b" style="left:1229.12px;top:2343.6px;height:14.3px"></div>
<div class="b" style="left:1287.44px;top:2336.6px;height:21.3px"></div>
<div class="b" style="left:1345.76px;top:2338.4px;height:19.5px"></div>
<div class="b" style="left:1404.08px;top:2336.6px;height:21.3px"></div>
<div class="b" style="left:1462.4px;top:2326.3px;height:31.6px"></div>
<div class="b" style="left:1520.72px;top:2311.3px;height:46.6px"></div>
<div class="b" style="left:1579.04px;top:2303.5px;height:54.4px"></div>
<div class="b o" style="left:1637.36px;top:2296.2px;height:61.7px"></div>
<div class="b" style="left:1695.68px;top:2311.3px;height:46.6px"></div>
<div class="h" style="left:145px;width:1625px;top:2252.65px"></div>
<div class="lbl" style="left:155.64px;top:2289.45px;transform:scaleX(0.9616)">Career Readiness</div>
<div class="rl" style="left:414.6px;top:2294.15px">% of Row</div>
<div class="tk" style="top:2271.1px">20%</div>
<div class="tk" style="top:2309.6px">10%</div>
<div class="h" style="left:145px;width:401px;top:2357.95px"></div>
<div class="g" style="left:543.5px;width:2.5px;top:231.35px;height:2129.3px;background:#c8c8c8"></div>
<div class="yr" style="left:572.6px;top:2385.5px">2000</div>
<div class="yr" style="left:689.5px;top:2385.5px">2002</div>
<div class="yr" style="left:806.4px;top:2385.5px">2004</div>
<div class="yr" style="left:923.3px;top:2385.5px">2006</div>
<div class="yr" style="left:1040.2px;top:2385.5px">2008</div>
<div class="yr" style="left:1157.1px;top:2385.5px">2010</div>
<div class="yr" style="left:1274px;top:2385.5px">2012</div>
<div class="yr" style="left:1390.9px;top:2385.5px">2014</div>
<div class="yr" style="left:1507.8px;top:2385.5px">2016</div>
<div class="yr" style="left:1624.7px;top:2385.5px">2018</div>
<div class="yr" style="left:1725.3px;top:2385.5px">2020</div>
<div class="a" style="left:1068.3px;top:2430.7px;font-size:19.8px;line-height:24px;color:#333;white-space:nowrap;-webkit-text-stroke:0.35px #333;transform:scaleX(1.096);transform-origin:0 0">Implementation Yr</div>
<svg class="a" style="left:0;top:2440px" width="2125" height="310" viewBox="0 2440 2125 310">
<defs><clipPath id="bc"><rect x="381.4" y="2487.6" width="334.3" height="113.5"/></clipPath></defs>
<path fill="#000" d="M378 2604.6 L378 2487.5 Q378 2484 381.5 2484 L715.5 2484 Q719 2484 719 2487.5 L719 2604.6 Z"/>
<path fill="#abb0aa" d="M381.4 2569 L381.4 2489.6 Q381.4 2487.6 383.4 2487.6 L713.7 2487.6 Q715.7 2487.6 715.7 2489.6 L715.7 2569 Z"/>
<circle cx="437" cy="2546.5" r="49.5" fill="#abb0aa" clip-path="url(#bc)"/>
<circle cx="437" cy="2540.7" r="44.5" fill="#000"/>
<circle cx="437" cy="2540.7" r="36" fill="#fff"/>
<text x="435.2" y="2555.2" text-anchor="middle" font-family="Liberation Sans, Arial, sans-serif" font-weight="bold" font-size="51" letter-spacing="-2" fill="#000">cc</text>
<circle cx="594.6" cy="2527.4" r="32.6" fill="#000"/>
<circle cx="594.6" cy="2527.4" r="27.2" fill="#fff"/>
<circle cx="594.2" cy="2510.6" r="4.3" fill="#000"/>
<rect x="585.2" y="2517.3" width="17.5" height="16" rx="1.5" fill="#000"/>
<rect x="589.3" y="2530" width="9.8" height="18.4" fill="#000"/>
<text x="595" y="2597.3" text-anchor="middle" font-family="Liberation Sans, Arial, sans-serif" font-weight="bold" font-size="25" fill="#fff">BY</text>
<text y="2591.6" font-family="DejaVu Sans, sans-serif" font-weight="200" fill="#6f7882" stroke="#6f7882" stroke-width="2.6" stroke-linejoin="round"><tspan x="1160.18" font-size="82.67" textLength="39.54" lengthAdjust="spacingAndGlyphs">L</tspan><tspan x="1199.4" font-size="82.67" textLength="20.33" lengthAdjust="spacingAndGlyphs">I</tspan><tspan x="1216.92" font-size="82.75" textLength="44.46" lengthAdjust="spacingAndGlyphs">S</tspan><tspan x="1260.54" font-size="82.67" textLength="38.34" lengthAdjust="spacingAndGlyphs">T</tspan></text>
<path fill="#4d88cc" d="M1314.5 2483.5 L1373 2483.5 Q1381 2483.5 1387 2489.5 L1401 2504 Q1406.6 2510 1406.6 2518 L1406.6 2601 Q1406.6 2612 1395.6 2612 L1314 2612 Q1303.2 2612 1303.2 2601 L1303.2 2494.5 Q1303.2 2483.5 1314.5 2483.5 Z"/>
<path fill="#fff" d="M1315.5 2492.1 L1367 2492.1 Q1370.4 2492.1 1370.4 2495.5 L1370.4 2516 Q1370.4 2519.9 1374.3 2519.9 L1395 2519.9 Q1398.4 2519.9 1398.4 2523.3 L1398.4 2599.5 Q1398.4 2603 1394.9 2603 L1315 2603 Q1311.4 2603 1311.4 2599.5 L1311.4 2495.8 Q1311.4 2492.1 1315.5 2492.1 Z"/>
<g fill="#7d848b"><rect x="1319.9" y="2500.2" width="39.8" height="1.7"/><rect x="1319.9" y="2508.2" width="39.8" height="1.7"/><rect x="1319.9" y="2516.7" width="39.8" height="1.7"/><rect x="1319.9" y="2525.2" width="39.8" height="1.7"/><rect x="1319.9" y="2533.6" width="39.8" height="1.7"/></g>
<text y="2591.8" font-family="DejaVu Sans, sans-serif" font-weight="400" fill="#6e7780" stroke="#6e7780" stroke-width="2" stroke-linejoin="round"><tspan x="1316.97" font-size="69.64" textLength="41.8" lengthAdjust="spacingAndGlyphs">e</tspan><tspan x="1353.76" font-size="82.11" textLength="40.96" lengthAdjust="spacingAndGlyphs">d</tspan></text><text y="2591.7" font-family="DejaVu Sans, sans-serif" font-weight="200" fill="#4d88cc" stroke="#4d88cc" stroke-width="2.6" stroke-linejoin="round"><tspan x="1414.14" font-size="82.67" textLength="38.24" lengthAdjust="spacingAndGlyphs">T</tspan><tspan x="1442.61" font-size="82.67" textLength="58.59" lengthAdjust="spacingAndGlyphs">E</tspan><tspan x="1496.03" font-size="82.75" textLength="41.15" lengthAdjust="spacingAndGlyphs">C</tspan><tspan x="1537.02" font-size="82.67" textLength="51" lengthAdjust="spacingAndGlyphs">H</tspan></text>
<rect x="1452.1" y="2526" width="8" height="70" fill="#fff"/><rect x="1480.6" y="2555" width="15" height="10" fill="#fff"/>
<g fill="#6f7780"><rect x="1382.7" y="2473.4" width="6.5" height="6.5"/><rect x="1403" y="2467.9" width="5" height="5"/><rect x="1412.1" y="2479.8" width="9" height="8.5"/><rect x="1387.3" y="2484.4" width="7.5" height="7.5"/><rect x="1397.4" y="2503.4" width="9" height="8.5"/></g>
<g fill="#4d88cc"><rect x="1415.8" y="2466.9" width="7" height="6.7"/><rect x="1394.7" y="2474.3" width="6" height="5.6"/><rect x="1398.4" y="2481.6" width="4.8" height="4.8"/><rect x="1402" y="2489" width="10" height="10"/><rect x="1380.9" y="2491.7" width="5.5" height="5.5"/><rect x="1387.3" y="2499.1" width="8" height="7.5"/><rect x="1415.8" y="2500" width="6.5" height="6.5"/></g>
</svg>
</body></html>
